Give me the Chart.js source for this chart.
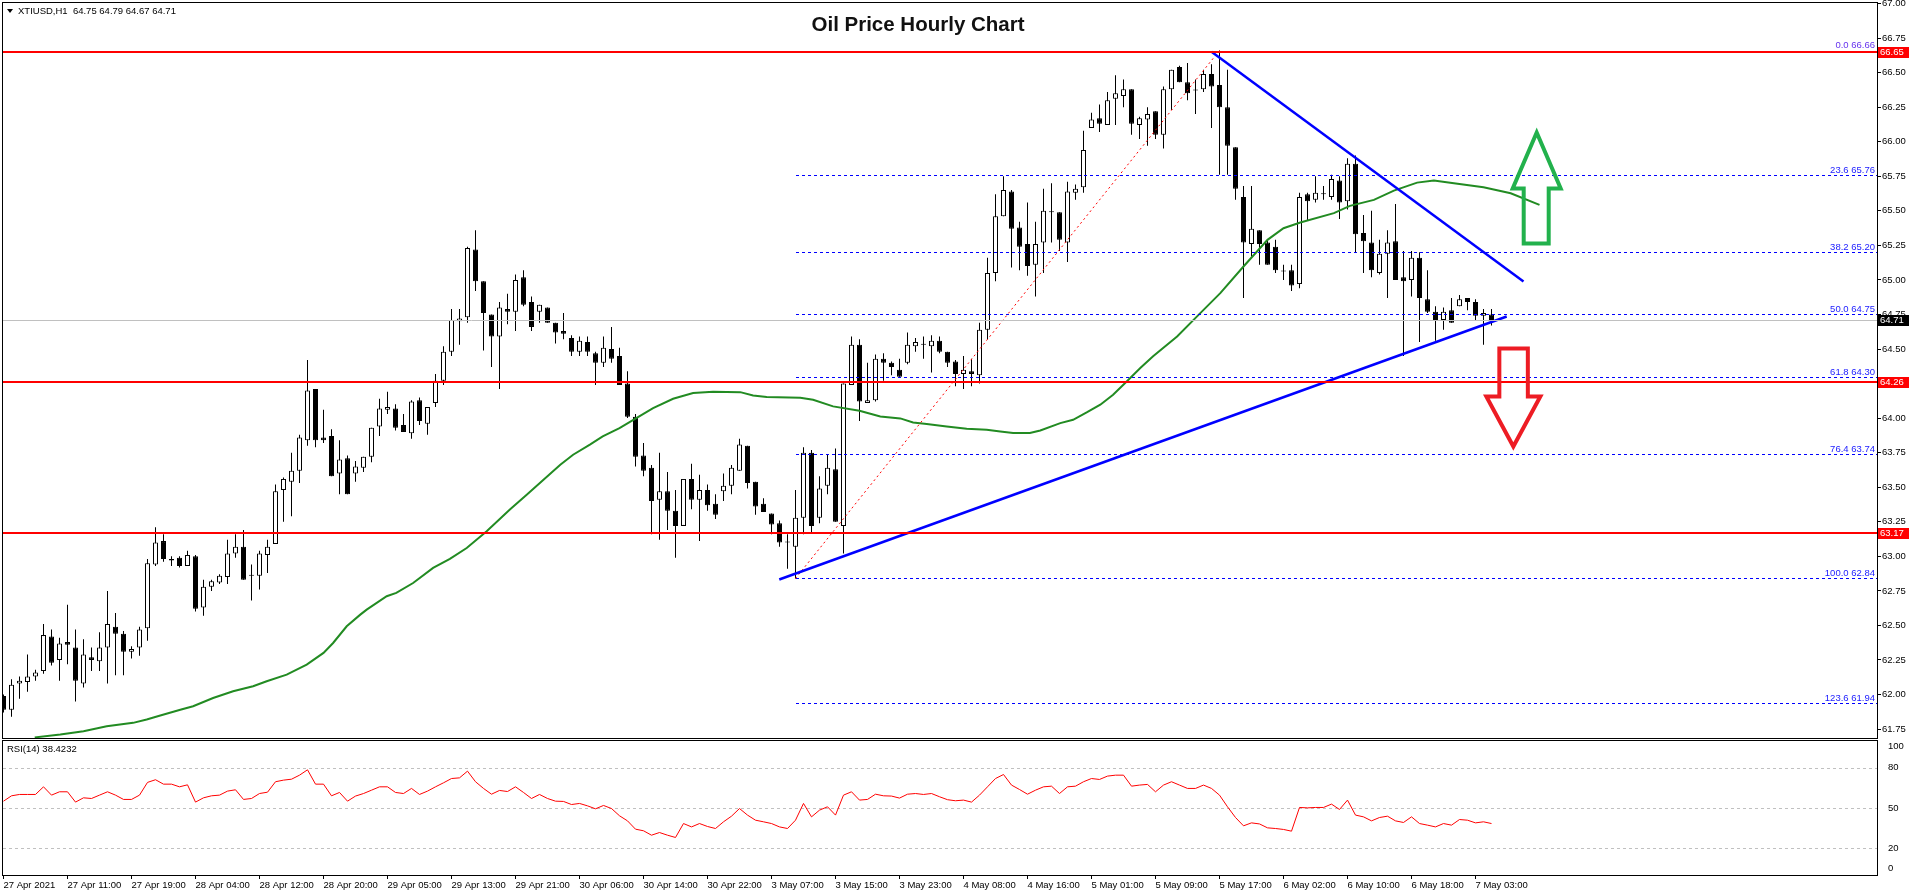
<!DOCTYPE html>
<html>
<head>
<meta charset="utf-8">
<title>Oil Price Hourly Chart</title>
<script src="https://cdn.jsdelivr.net/npm/chart.js@4.4.1/dist/chart.umd.min.js"></script>
<style>
  html, body { margin: 0; padding: 0; background: #fff; }
  body { width: 1916px; height: 896px; position: relative; overflow: hidden; font-family: "Liberation Sans", Arial, sans-serif; }
  canvas { position: absolute; left: 0; }
  #priceChart { top: 0; }
  #rsiChart { top: 738px; }
  .title { position: absolute; top: 13.5px; left: 0; width: 1836px; text-align: center; font: bold 20.5px/20.5px "Liberation Sans", Arial, sans-serif; color: #111; }
  .hdr { position: absolute; left: 7px; top: 5px; font-size: 9.5px; line-height: 12px; color: #000; white-space: nowrap; }
  .tri { display: inline-block; width: 0; height: 0; border-left: 3px solid transparent; border-right: 3px solid transparent; border-top: 4px solid #000; margin-right: 5px; vertical-align: 1px; }
  .rsi-label { position: absolute; left: 7px; top: 743px; font-size: 9.5px; line-height: 12px; color: #000; }
</style>
</head>
<body>
<canvas id="priceChart" width="1916" height="740"></canvas>
<canvas id="rsiChart" width="1916" height="158"></canvas>
<div class="title">Oil Price Hourly Chart</div>
<div class="hdr"><span class="tri"></span>XTIUSD,H1&nbsp;&nbsp;64.75 64.79 64.67 64.71</div>
<div class="rsi-label">RSI(14) 38.4232</div>

<script>
// hourly bars, 27 Apr 2021 -> 7 May 2021 (one entry per bar)
const opens = [
  61.99,61.89,62.08,62.09,62.13,62.17,62.42,62.25,62.38,62.34,
  62.08,62.27,62.24,62.34,62.49,62.44,62.31,62.34,62.48,62.94,
  63.11,62.97,62.99,62.93,63.00,62.63,62.78,62.81,62.85,63.02,
  63.07,62.86,62.86,63.01,63.09,63.48,63.54,63.62,63.84,64.21,
  63.86,63.87,63.60,63.71,63.60,63.64,63.72,63.94,64.06,64.07,
  63.95,63.89,64.13,63.96,64.11,64.27,64.48,64.70,64.73,65.22,
  64.99,64.75,64.59,64.79,64.77,65.02,64.84,64.77,64.80,64.69,
  64.63,64.58,64.48,64.55,64.47,64.40,64.50,64.45,64.25,64.01,
  63.73,63.64,63.41,63.47,63.33,63.22,63.56,63.41,63.48,63.38,
  63.47,63.51,63.62,63.80,63.54,63.38,63.31,63.24,63.10,63.07,
  63.28,63.75,63.28,63.51,63.63,63.22,64.24,64.53,64.11,64.13,
  64.43,64.40,64.35,64.40,64.52,64.53,64.52,64.56,64.48,64.41,
  64.32,64.34,64.31,64.64,65.05,65.46,65.64,65.38,65.26,65.11,
  65.27,65.49,65.49,65.27,65.63,65.67,66.10,66.17,66.12,66.31,
  66.33,66.38,66.12,66.16,66.22,66.05,66.38,66.54,66.43,66.37,
  66.38,66.49,66.41,66.25,65.96,65.60,65.26,65.36,65.27,65.24,
  65.06,65.07,64.97,65.62,65.58,65.62,65.60,65.72,65.57,65.84,
  65.34,65.27,65.05,65.19,65.28,65.02,65.00,65.16,64.86,64.77,
  64.71,64.78,64.81,64.87,64.84,64.74,64.75
];
const highs = [
  62.00,62.11,62.13,62.29,62.18,62.51,62.47,62.41,62.65,62.47,
  62.40,62.34,62.45,62.75,62.59,62.46,62.35,62.49,62.98,63.21,
  63.16,63.00,63.00,63.04,63.01,62.83,62.83,62.87,63.12,63.16,
  63.19,62.94,63.04,63.12,63.52,63.57,63.75,63.88,64.42,64.21,
  64.06,63.92,63.84,63.73,63.69,63.72,63.93,64.14,64.19,64.10,
  64.03,64.13,64.15,64.08,64.32,64.52,64.79,64.79,65.24,65.36,
  64.99,64.75,64.84,64.90,65.04,65.07,64.88,64.82,64.80,64.69,
  64.76,64.60,64.59,64.59,64.48,64.59,64.66,64.51,64.34,64.03,
  63.82,63.66,63.75,63.61,63.48,63.56,63.67,63.59,63.52,63.45,
  63.60,63.66,63.85,63.80,63.54,63.42,63.31,63.26,63.16,63.48,
  63.79,63.77,63.58,63.74,63.78,64.25,64.59,64.57,64.40,64.46,
  64.47,64.41,64.43,64.62,64.58,64.59,64.60,64.59,64.48,64.42,
  64.45,64.43,64.69,65.16,65.62,65.75,65.65,65.42,65.56,65.42,
  65.66,65.70,65.49,65.71,65.69,66.08,66.21,66.27,66.36,66.48,
  66.45,66.38,66.18,66.25,66.22,66.40,66.52,66.55,66.57,66.45,
  66.52,66.56,66.66,66.52,65.96,65.68,65.68,65.36,65.29,65.29,
  65.11,65.11,65.63,65.63,65.75,65.68,65.76,65.75,65.88,65.90,
  65.47,65.50,65.29,65.36,65.55,65.21,65.21,65.20,65.07,64.81,
  64.80,64.87,64.89,64.87,64.86,64.79,64.79
];
const lows = [
  61.87,61.84,61.97,62.02,62.10,62.15,62.21,62.10,62.22,61.95,
  62.05,62.17,62.17,62.08,62.14,62.14,62.26,62.28,62.39,62.93,
  62.96,62.93,62.92,62.93,62.60,62.57,62.75,62.80,62.80,62.99,
  62.83,62.68,62.76,62.88,63.09,63.25,63.29,63.53,63.80,63.79,
  63.82,63.58,63.45,63.45,63.54,63.61,63.68,63.87,64.03,63.91,
  63.90,63.85,63.95,63.88,64.08,64.24,64.45,64.53,64.69,64.92,
  64.49,64.37,64.21,64.68,64.63,64.81,64.63,64.69,64.69,64.54,
  64.57,64.45,64.45,64.45,64.24,64.37,64.40,64.24,64.00,63.65,
  63.58,63.16,63.12,63.19,62.99,63.22,63.34,63.11,63.33,63.27,
  63.40,63.45,63.62,63.49,63.30,63.32,63.16,63.07,62.91,62.84,
  63.16,63.17,63.24,63.45,63.25,63.02,64.24,63.98,64.11,64.12,
  64.27,64.31,64.30,64.39,64.48,64.43,64.33,64.47,64.37,64.23,
  64.21,64.23,64.25,64.57,64.99,65.46,65.09,65.07,65.03,64.88,
  65.05,65.27,65.21,65.13,65.58,65.63,66.10,66.07,66.12,66.12,
  66.25,66.05,66.02,65.97,66.02,65.95,66.23,66.43,66.30,66.20,
  66.36,66.10,65.76,65.76,65.58,64.87,65.17,65.11,65.11,65.05,
  65.00,64.92,64.94,65.43,65.56,65.58,65.58,65.44,65.51,65.20,
  65.05,65.02,65.04,64.87,65.00,64.45,64.88,64.55,64.76,64.56,
  64.64,64.69,64.81,64.78,64.71,64.53,64.67
];
const closes = [
  61.89,62.07,62.10,62.13,62.16,62.43,62.23,62.37,62.36,62.10,
  62.29,62.25,62.34,62.51,62.44,62.31,62.33,62.47,62.95,63.10,
  62.98,62.98,62.93,63.01,62.62,62.78,62.82,62.86,63.02,63.07,
  62.83,62.86,63.02,63.07,63.47,63.56,63.62,63.86,64.20,63.84,
  63.84,63.58,63.70,63.45,63.65,63.72,63.93,64.07,64.08,63.93,
  63.90,64.12,63.98,64.08,64.27,64.48,64.71,64.72,65.23,64.99,
  64.76,64.59,64.80,64.77,65.00,64.82,64.66,64.82,64.69,64.62,
  64.61,64.48,64.56,64.48,64.40,64.51,64.43,64.24,64.01,63.72,
  63.62,63.40,63.47,63.33,63.22,63.56,63.41,63.48,63.37,63.30,
  63.51,63.64,63.81,63.53,63.36,63.32,63.23,63.10,63.10,63.28,
  63.75,63.22,63.49,63.64,63.25,64.25,64.53,64.12,64.13,64.43,
  64.40,64.37,64.30,64.53,64.55,64.53,64.56,64.48,64.40,64.32,
  64.35,64.32,64.64,65.05,65.46,65.65,65.37,65.24,65.10,65.26,
  65.50,65.49,65.29,65.64,65.66,65.94,66.16,66.13,66.30,66.35,
  66.38,66.13,66.17,66.20,66.05,66.38,66.52,66.43,66.35,66.37,
  66.49,66.40,66.25,65.97,65.66,65.27,65.37,65.26,65.11,65.07,
  65.06,64.96,65.60,65.57,65.63,65.62,65.73,65.56,65.84,65.33,
  65.28,65.07,65.19,65.27,65.00,64.99,65.16,64.87,64.77,64.71,
  64.77,64.69,64.86,64.84,64.74,64.76,64.71
];
const rsiValues = [
  55.1,59.1,60.1,60.1,60.1,65.8,59.6,62.1,62.1,54.4,
  57.6,57.1,59.6,62.1,59.6,56.4,56.4,59.6,69.1,71.1,
  67.8,67.8,65.8,67.3,54.4,57.6,59.1,59.6,62.6,63.6,
  56.4,57.1,60.8,61.8,69.6,70.8,71.5,74.5,78.5,67.8,
  67.8,59.1,61.6,55.1,58.9,60.8,63.3,65.8,65.8,61.6,
  60.8,64.6,60.1,62.6,65.8,68.8,72.0,72.5,77.5,69.6,
  64.6,60.3,63.1,62.3,65.8,61.6,57.1,60.1,57.1,55.1,
  54.9,52.6,53.4,51.6,49.4,51.9,49.6,44.2,40.4,34.2,
  33.0,29.7,31.7,29.7,28.0,38.4,35.9,38.4,36.2,34.7,
  39.7,43.9,49.6,44.7,40.9,39.7,38.4,35.9,34.7,40.9,
  53.4,43.4,48.4,50.9,44.7,59.6,62.1,55.9,56.4,60.3,
  59.1,58.9,57.4,60.3,60.8,60.1,60.8,58.4,56.2,55.4,
  55.9,54.4,59.6,65.8,72.0,75.0,67.1,63.8,60.3,63.3,
  65.8,66.3,60.8,65.8,66.3,69.6,72.0,71.3,73.8,74.5,
  74.5,66.3,67.1,67.6,62.1,67.1,69.6,67.1,64.6,64.6,
  67.1,64.6,59.6,50.9,42.9,36.7,38.9,38.1,35.2,34.7,
  34.0,32.7,50.4,50.1,50.4,50.4,52.9,48.9,55.9,44.7,
  43.4,40.4,42.9,43.9,40.4,39.2,43.4,38.4,37.2,35.9,
  38.4,37.2,41.4,40.9,38.9,39.7,38.4
];
// green moving average, read as [bar, price]
const maPoints = [
  [3.9,61.69],[7.1,61.71],[10,61.735],[12.9,61.77],[16.2,61.795],[17.9,61.82],[19.6,61.848],
  [22.1,61.89],[23.7,61.915],[26.2,61.975],[28.7,62.024],[31.2,62.06],[32.9,62.096],[35.4,62.144],
  [37.9,62.217],[40,62.301],[41.2,62.373],[42.9,62.494],[44.6,62.578],[45.4,62.614],[47.9,62.711],
  [49.1,62.735],[51.2,62.807],[53.7,62.916],[55.8,62.981],[57.9,63.06],[60.4,63.181],[63.3,63.338],
  [65.4,63.446],[67.5,63.554],[69.6,63.663],[71.2,63.735],[73.3,63.808],[74.9,63.868],[77,63.928],
  [79.1,64.0],[81.2,64.073],[83.7,64.14],[86.2,64.181],[88.7,64.191],[92.1,64.188],[93.7,64.164],
  [95.4,64.152],[99.6,64.147],[101.2,64.133],[103.7,64.085],[107,64.053],[109.6,64.012],[112.1,63.998],
  [113.7,63.969],[115.4,63.957],[117.9,63.94],[120.4,63.923],[122.9,63.916],[124.6,63.904],[126.2,63.892],
  [128.3,63.892],[129.6,63.911],[132.1,63.964],[133.7,63.988],[135.4,64.041],[137.1,64.097],[138.7,64.169],
  [140.4,64.265],[142.1,64.362],[143.7,64.447],[146.7,64.591],[149.6,64.76],[152.1,64.904],[155,65.097],
  [158,65.29],[160,65.374],[162.1,65.415],[166.3,65.483],[168.3,65.536],[171.3,65.579],[173.8,65.646],
  [176.7,65.704],[178.8,65.719],[181.3,65.7],[185,65.67],[188.4,65.627],[192,65.543]
];
const dateLabels = [
  "27 Apr 2021","27 Apr 11:00","27 Apr 19:00","28 Apr 04:00","28 Apr 12:00","28 Apr 20:00",
  "29 Apr 05:00","29 Apr 13:00","29 Apr 21:00","30 Apr 06:00","30 Apr 14:00","30 Apr 22:00",
  "3 May 07:00","3 May 15:00","3 May 23:00","4 May 08:00","4 May 16:00","5 May 01:00",
  "5 May 09:00","5 May 17:00","6 May 02:00","6 May 10:00","6 May 18:00","7 May 03:00"
];
const priceTicks = [61.75,62.00,62.25,62.50,62.75,63.00,63.25,63.50,63.75,64.00,64.25,64.50,64.75,65.00,65.25,65.50,65.75,66.00,66.25,66.50,66.75,67.00];
const rsiTicks = [0, 20, 50, 80, 100];
const rsiLevels = [20, 50, 80];

const redLevels = [66.65, 64.26, 63.17];
const bidPrice = 64.71;
const fibStart = 99;
const fibLevels = [["0.0",66.66],["23.6",65.76],["38.2",65.20],["50.0",64.75],["61.8",64.30],["76.4",63.74],["100.0",62.84],["123.6",61.94]];
const supportLine = [[96.97,62.832],[187.9,64.735]];
const resistanceLine = [[151.0,66.651],[190.0,64.989]];
const fibTrend = [[99,62.84],[152,66.66]];

// annotation arrows: tip at [bar, price], outline in px relative to tip
const arrows = [
  { tip: [191.65, 66.066], color: "#22b14c",
    shape: [[0,0],[24,56],[12,56],[12,111],[-13,111],[-13,56],[-24,56]] },
  { tip: [188.73, 63.795], color: "#ed1c24",
    shape: [[0,0],[27,-50],[14.5,-50],[14.5,-98],[-14,-98],[-14,-50],[-27,-50]] }
];

const X_MIN = -0.0625, X_MAX = 234.1875;
const FONT = '"Liberation Sans", Arial, sans-serif';

const pts = (arr) => arr.map(([x, y]) => ({ x, y }));

const framePlugin = {
  id: "frame",
  afterDraw(chart) {
    const { ctx, chartArea: a } = chart;
    ctx.save();
    ctx.strokeStyle = "#000";
    ctx.lineWidth = 1;
    ctx.strokeRect(a.left - 0.5, a.top - 0.5, a.right - a.left + 1, a.bottom - a.top + 1);
    ctx.restore();
  }
};

const levelsPlugin = {
  id: "levels",
  afterDatasetsDraw(chart) {
    const { ctx, chartArea: a, scales: { x, y } } = chart;
    const py = (v) => Math.round(y.getPixelForValue(v));
    ctx.save();
    ctx.beginPath();
    ctx.rect(a.left, a.top, a.right - a.left, a.bottom - a.top);
    ctx.clip();

    ctx.lineWidth = 1;
    ctx.strokeStyle = "#c0c0c0";
    ctx.beginPath();
    ctx.moveTo(a.left, py(bidPrice) + 0.5);
    ctx.lineTo(a.right, py(bidPrice) + 0.5);
    ctx.stroke();

    // fib lines (the one lying on a red level is hidden under it)
    const fx = Math.round(x.getPixelForValue(fibStart));
    ctx.strokeStyle = "#0000ff";
    ctx.setLineDash([3, 3]);
    fibLevels.forEach(([, price]) => {
      if (redLevels.some((r) => Math.abs(r - price) < 0.03)) return;
      ctx.beginPath();
      ctx.moveTo(fx, py(price) + 0.5);
      ctx.lineTo(a.right, py(price) + 0.5);
      ctx.stroke();
    });
    ctx.setLineDash([]);

    ctx.font = "9.5px " + FONT;
    ctx.textAlign = "right";
    ctx.textBaseline = "alphabetic";
    fibLevels.forEach(([ratio, price]) => {
      ctx.fillStyle = ratio === "0.0" ? "#6633ee" : "#1a1aff";
      ctx.fillText(ratio + " " + price.toFixed(2), a.right - 2, py(price) - 2);
    });

    ctx.strokeStyle = "#ff0000";
    ctx.lineWidth = 2;
    redLevels.forEach((v) => {
      ctx.beginPath();
      ctx.moveTo(a.left, py(v));
      ctx.lineTo(a.right, py(v));
      ctx.stroke();
    });

    ctx.lineWidth = 4;
    ctx.lineJoin = "miter";
    arrows.forEach((arr) => {
      const tx = x.getPixelForValue(arr.tip[0]);
      const ty = y.getPixelForValue(arr.tip[1]);
      ctx.strokeStyle = arr.color;
      ctx.beginPath();
      arr.shape.forEach(([dx, dy], k) => {
        if (k === 0) ctx.moveTo(tx + dx, ty + dy);
        else ctx.lineTo(tx + dx, ty + dy);
      });
      ctx.closePath();
      ctx.stroke();
    });
    ctx.restore();
  },
  afterDraw(chart) {
    const { ctx, chartArea: a, scales: { y } } = chart;
    const tag = (v, bg) => {
      const yy = Math.round(y.getPixelForValue(v));
      ctx.fillStyle = bg;
      ctx.fillRect(a.right + 1, yy - 5, 31, 11);
      ctx.fillStyle = "#fff";
      ctx.font = "9.5px " + FONT;
      ctx.textAlign = "left";
      ctx.textBaseline = "middle";
      ctx.fillText(v.toFixed(2), a.right + 3, yy + 0.5);
    };
    ctx.save();
    redLevels.forEach((v) => tag(v, "#ff0000"));
    tag(bidPrice, "#000000");
    ctx.restore();
  }
};

new Chart(document.getElementById("priceChart"), {
  type: "bar",
  data: {
    datasets: [
      { type: "line", label: "support", data: pts(supportLine), borderColor: "#0000ff", borderWidth: 2.5, pointRadius: 0, order: 0 },
      { type: "line", label: "resistance", data: pts(resistanceLine), borderColor: "#0000ff", borderWidth: 2.5, pointRadius: 0, order: 0 },
      { type: "line", label: "fib", data: pts(fibTrend), borderColor: "#ff0000", borderWidth: 1, borderDash: [2, 3], pointRadius: 0, order: 0 },
      { type: "line", label: "ma", data: pts(maPoints), borderColor: "#228b22", borderWidth: 2, pointRadius: 0, order: 1 },
      {
        label: "body",
        data: opens.map((o, i) => ({ x: i, y: [o, closes[i]] })),
        backgroundColor: opens.map((o, i) => (closes[i] >= o ? "#ffffff" : "#000000")),
        borderColor: "#000000",
        borderWidth: 1,
        borderSkipped: false,
        barThickness: 5,
        minBarLength: 1,
        inflateAmount: 0,
        grouped: false,
        order: 2
      },
      {
        label: "wick",
        data: lows.map((l, i) => ({ x: i, y: [l, highs[i]] })),
        backgroundColor: "#000000",
        borderWidth: 0,
        barThickness: 1,
        inflateAmount: 0,
        grouped: false,
        order: 3
      }
    ]
  },
  options: {
    responsive: false,
    animation: false,
    devicePixelRatio: 1,
    layout: { padding: { left: 3, top: 3, right: 0, bottom: 2 } },
    plugins: { legend: { display: false }, tooltip: { enabled: false } },
    scales: {
      x: { type: "linear", min: X_MIN, max: X_MAX, offset: false, display: false },
      y: {
        position: "right",
        min: 61.6855,
        max: 67.0036,
        grid: { drawOnChartArea: false, drawTicks: true, tickLength: 4, color: "#000" },
        border: { display: false },
        ticks: { padding: 1, color: "#000", font: { family: FONT, size: 9.5 }, callback: (v) => Number(v).toFixed(2) },
        afterBuildTicks: (s) => { s.ticks = priceTicks.map((v) => ({ value: v })); },
        afterFit: (s) => { s.width = 39; s.paddingTop = 0; s.paddingBottom = 0; }
      }
    }
  },
  plugins: [levelsPlugin, framePlugin]
});

const rsiGuides = {
  id: "rsiGuides",
  beforeDatasetsDraw(chart) {
    const { ctx, chartArea: a, scales: { y } } = chart;
    ctx.save();
    ctx.strokeStyle = "#c0c0c0";
    ctx.lineWidth = 1;
    ctx.setLineDash([3, 3]);
    rsiLevels.forEach((v) => {
      const yy = Math.round(y.getPixelForValue(v)) + 0.5;
      ctx.beginPath();
      ctx.moveTo(a.left, yy);
      ctx.lineTo(a.right, yy);
      ctx.stroke();
    });
    ctx.restore();
  }
};

new Chart(document.getElementById("rsiChart"), {
  type: "line",
  data: {
    datasets: [
      { data: rsiValues.map((v, i) => ({ x: i, y: v })), borderColor: "#ff0000", borderWidth: 1, pointRadius: 0 }
    ]
  },
  options: {
    responsive: false,
    animation: false,
    devicePixelRatio: 1,
    layout: { padding: { left: 3, top: 3, right: 0, bottom: 0 } },
    plugins: { legend: { display: false }, tooltip: { enabled: false } },
    scales: {
      x: {
        type: "linear",
        min: X_MIN,
        max: X_MAX,
        offset: false,
        grid: { drawOnChartArea: false, drawTicks: true, tickLength: 4, color: "#000" },
        border: { display: false },
        ticks: {
          autoSkip: false, maxRotation: 0, align: "start", padding: 1, color: "#000",
          font: { family: FONT, size: 9.5 },
          callback: (v) => dateLabels[Math.round(v / 8)]
        },
        afterBuildTicks: (s) => { s.ticks = dateLabels.map((_, k) => ({ value: k * 8 })); },
        afterFit: (s) => { s.height = 21; s.paddingLeft = 0; s.paddingRight = 0; }
      },
      y: {
        position: "right",
        min: 0,
        max: 100,
        grid: { display: false },
        border: { display: false },
        ticks: {
          padding: 3, color: "#000", font: { family: FONT, size: 9.5 },
          callback: (v, i) => String(rsiTicks[i])
        },
        afterBuildTicks: (s) => { s.ticks = rsiTicks.map((v) => ({ value: Math.min(96, Math.max(5, v)) })); },
        afterFit: (s) => { s.width = 39; s.paddingTop = 0; s.paddingBottom = 0; }
      }
    }
  },
  plugins: [rsiGuides, framePlugin]
});
</script>
</body>
</html>
